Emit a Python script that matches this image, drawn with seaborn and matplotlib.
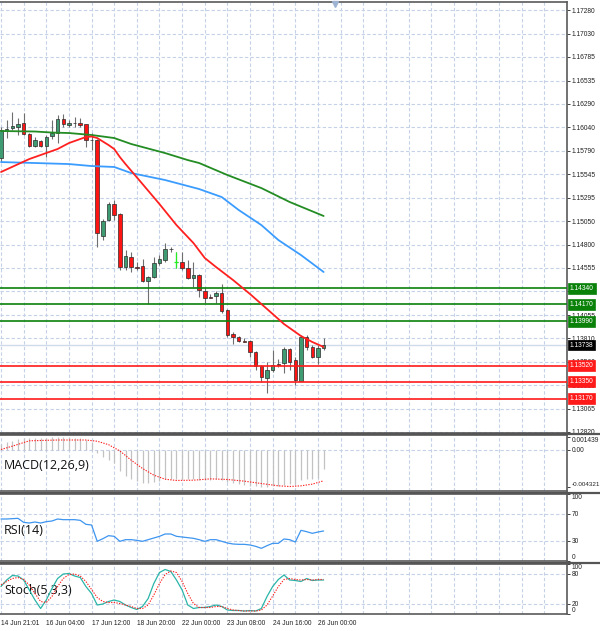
import numpy as np
import seaborn as sns
import matplotlib.pyplot as plt
from matplotlib.lines import Line2D

# ---- 4h candles (EURUSD-like) ----
opens = [1.15716, 1.16001, 1.16033, 1.16043, 1.16086, 1.15969, 1.15842, 1.15895, 1.15842, 1.15948,
         1.15980, 1.16128, 1.16064, 1.16086, 1.16086, 1.16075, 1.15911, 1.15906, 1.14891, 1.15060,
         1.15229, 1.15124, 1.14563, 1.14669, 1.14563, 1.14574, 1.14415, 1.14458, 1.14606, 1.14638,
         1.14754, 1.14616, 1.14616, 1.14553, 1.14447, 1.14479, 1.14310, 1.14246, 1.14257, 1.14289,
         1.14109, 1.13855, 1.13824, 1.13781, 1.13781, 1.13665, 1.13517, 1.13390, 1.13475, 1.13538,
         1.13549, 1.13697, 1.13580, 1.13359, 1.13824, 1.13718, 1.13612, 1.13708]
highs = [1.16043, 1.16117, 1.16202, 1.16138, 1.16191, 1.15980, 1.15938, 1.15906, 1.15959, 1.16117,
         1.16170, 1.16181, 1.16117, 1.16149, 1.16138, 1.16075, 1.15980, 1.15917, 1.15071, 1.15251,
         1.15272, 1.15134, 1.14743, 1.14722, 1.14616, 1.14648, 1.14468, 1.14669, 1.14690, 1.14817,
         1.14775, 1.14722, 1.14722, 1.14638, 1.14616, 1.14490, 1.14341, 1.14278, 1.14310, 1.14384,
         1.14120, 1.13876, 1.13834, 1.13813, 1.13792, 1.13676, 1.13528, 1.13559, 1.13686, 1.13591,
         1.13718, 1.13708, 1.13612, 1.13845, 1.13845, 1.13739, 1.13739, 1.13813]
lows = [1.15673, 1.15927, 1.16012, 1.15959, 1.15959, 1.15832, 1.15832, 1.15832, 1.15726, 1.15917,
        1.15874, 1.16043, 1.16043, 1.16043, 1.16043, 1.15832, 1.15800, 1.14775, 1.14849, 1.15050,
        1.15060, 1.14532, 1.14532, 1.14511, 1.14532, 1.14405, 1.14172, 1.14447, 1.14585, 1.14616,
        1.14722, 1.14553, 1.14532, 1.14437, 1.14352, 1.14246, 1.14183, 1.14236, 1.14183, 1.14077,
        1.13824, 1.13750, 1.13771, 1.13771, 1.13612, 1.13475, 1.13348, 1.13232, 1.13454, 1.13507,
        1.13443, 1.13475, 1.13316, 1.13359, 1.13686, 1.13602, 1.13538, 1.13686]
closes = [1.16012, 1.16022, 1.16054, 1.16075, 1.15969, 1.15842, 1.15906, 1.15842, 1.15938, 1.15980,
          1.16128, 1.16075, 1.16086, 1.16083, 1.16070, 1.15906, 1.15906, 1.14923, 1.15050, 1.15229,
          1.15113, 1.14563, 1.14680, 1.14563, 1.14558, 1.14415, 1.14458, 1.14606, 1.14648, 1.14754,
          1.14749, 1.14616, 1.14553, 1.14447, 1.14479, 1.14320, 1.14236, 1.14241, 1.14289, 1.14098,
          1.13845, 1.13824, 1.13781, 1.13776, 1.13665, 1.13517, 1.13401, 1.13475, 1.13528, 1.13533,
          1.13697, 1.13559, 1.13369, 1.13824, 1.13718, 1.13612, 1.13708, 1.13738]
lime_doji = [31]

# moving averages (read at some bars)
ma_red_i = [0, 5, 10, 12, 15, 16, 17, 19, 20, 21, 22, 25, 28, 31, 34, 36, 38, 41, 44, 47, 50, 53, 55, 57]
ma_red = [1.15568, 1.15705, 1.15811, 1.15874, 1.15938, 1.15943, 1.15927, 1.15853, 1.15811, 1.15726,
          1.15652, 1.15441, 1.15229, 1.15007, 1.14817, 1.14659, 1.14563, 1.14426, 1.14278, 1.14120,
          1.13961, 1.13834, 1.13771, 1.13718]
ma_blue_i = [0, 6, 12, 16, 20, 23, 29, 35, 39, 42, 46, 49, 53, 57]
ma_blue = [1.15673, 1.15663, 1.15652, 1.15631, 1.15621, 1.15557, 1.15483, 1.15388, 1.15303, 1.15166,
           1.15007, 1.14849, 1.14690, 1.14511]
ma_green_i = [0, 6, 9, 12, 16, 20, 23, 29, 33, 35, 40, 46, 51, 57]
ma_green = [1.16001, 1.15996, 1.15985, 1.15980, 1.15959, 1.15927, 1.15864, 1.15768, 1.15694, 1.15663,
            1.15536, 1.15398, 1.15251, 1.15103]

resist = [1.14340, 1.14170, 1.13990]
support = [1.13520, 1.13350, 1.13170]
last_price = 1.13738

price_ticks = [1.12820, 1.13065, 1.13315, 1.13560, 1.13810, 1.14055, 1.14305, 1.14555, 1.14800, 1.15050,
               1.15295, 1.15545, 1.15790, 1.16040, 1.16290, 1.16535, 1.16785, 1.17030, 1.17280]

# MACD(12,26,9)
macd_hist = [0.0006, 0.0008, 0.0010, 0.0012, 0.0013, 0.0013, 0.0013, 0.0013, 0.0013, 0.0014,
             0.00144, 0.0014, 0.0014, 0.0013, 0.0013, 0.0011, 0.0009, -0.0004, -0.0009, -0.0012,
             -0.0015, -0.0025, -0.0030, -0.0033, -0.0036, -0.0038, -0.0038, -0.0037, -0.0036, -0.0034,
             -0.0033, -0.0033, -0.0033, -0.0034, -0.0034, -0.0035, -0.0035, -0.0035, -0.0034, -0.0035,
             -0.0037, -0.0038, -0.0039, -0.0040, -0.0041, -0.0042, -0.00432, -0.0043, -0.0042, -0.0041,
             -0.0040, -0.0039, -0.0039, -0.0035, -0.0034, -0.0033, -0.0032, -0.0022]
macd_sig_i = [0, 2, 5, 10, 15, 17, 19, 21, 23, 25, 27, 29, 31, 34, 37, 40, 43, 46, 49, 51, 53, 55, 57]
macd_sig = [0.0, 0.00038, 0.00099, 0.00108, 0.00108, 0.00094, 0.00055, -0.00016, -0.00121, -0.00216,
            -0.00292, -0.00338, -0.00352, -0.00349, -0.00334, -0.00341, -0.00360, -0.00387, -0.00413,
            -0.00421, -0.00413, -0.00394, -0.00356]

rsi = [62.5, 62.5, 63, 63.5, 57.5, 56.5, 58, 56.5, 58.5, 59.5, 62.5, 61.5, 61.5, 61.5, 60.5, 54.5,
       53.5, 29, 33, 37.5, 36.5, 29, 31.5, 31.5, 30.5, 29, 31.5, 34, 36.5, 40, 40, 36.5, 35.5, 34.5,
       33.5, 31.5, 29, 31.5, 31.5, 29, 26.5, 25, 24.5, 24.5, 23.5, 21.5, 18.5, 22.5, 26, 26, 32.5,
       31.5, 28, 45.5, 43.5, 41, 43, 44.5]

stoch_k = [55, 68, 77, 76, 68, 48, 28, 11, 28, 51, 71, 80, 81, 76, 73, 55, 41, 18, 20, 25, 28, 25,
           18, 13, 9, 15, 31, 61, 83, 89, 85, 68, 48, 18, 11, 13, 13, 15, 18, 15, 8, 7, 7, 6, 7, 6,
           11, 35, 55, 69, 78, 68, 67, 65, 71, 67, 68, 68]
stoch_d = [58, 65, 71, 73, 69, 58, 41, 25, 23, 35, 55, 71, 79, 80, 76, 65, 49, 33, 25, 23, 23, 21,
           18, 15, 11, 11, 18, 38, 61, 79, 86, 83, 65, 41, 21, 13, 13, 13, 15, 15, 11, 8, 7, 6, 6, 6,
           8, 18, 36, 55, 69, 71, 69, 68, 69, 68, 69, 69]

date_pos = [0, 8, 16, 24, 32, 40, 48, 56]
date_labels = ['14 Jun 21:01', '16 Jun 04:00', '17 Jun 12:00', '18 Jun 20:00',
               '22 Jun 00:00', '23 Jun 08:00', '24 Jun 16:00', '26 Jun 00:00']

sns.set_style('white')
plt.rcParams['font.family'] = ['Liberation Sans', 'DejaVu Sans']

grid_col = '#c4d1e6'
grid_ls = (0, (3, 2))
tick_fs = 4.8
W, H = 600, 631

fig = plt.figure(figsize=(6, 6.31), dpi=100)


def panel(top_px, bot_px):
    return fig.add_axes([0, (H - bot_px) / H, 567 / W, (bot_px - top_px) / H])


ax = panel(2, 433)
ax_macd = panel(435, 491)
ax_rsi = panel(494, 561)
ax_sto = panel(564, 614)
axes = [ax, ax_macd, ax_rsi, ax_sto]

for a in axes:
    a.set_xlim(-0.177, 100.0)
    a.set_axisbelow(True)
    a.xaxis.remove_overlapping_locs = False
    a.set_xticks(np.arange(0, 101, 4), minor=True)
    a.grid(which='minor', axis='x', color=grid_col, lw=0.8, ls=grid_ls)
    a.tick_params(axis='x', which='minor', length=0)
    a.yaxis.tick_right()
    a.tick_params(axis='y', length=2.2, width=0.6, pad=1.0, labelsize=tick_fs, colors='#222222')
    a.spines['left'].set_visible(False)
    for s in ['top', 'bottom', 'right']:
        a.spines[s].set_color('#5a5a5a')
        a.spines[s].set_linewidth(1.2)
    if a is not ax_sto:
        a.set_xticks([])

# ---- main price panel ----
ax.set_ylim(1.12809, 1.17365)
ax.set_yticks(price_ticks, ['%.5f' % v for v in price_ticks])
ax.grid(which='major', axis='y', color=grid_col, lw=0.8, ls=grid_ls)

o, h, l, c = map(np.array, (opens, highs, lows, closes))
idx = np.arange(len(o))
body_col = np.where(c > o, '#3f9c72', np.where(c < o, '#ff1414', '#707070'))
ax.vlines(idx, l, h, color='#6e6e6e', lw=0.8, zorder=3)
body_h = np.where(np.abs(c - o) < 0.00002, 0.00002, c - o)
ax.bar(idx, body_h, bottom=o, width=0.62, color=body_col, edgecolor='#2b2b2b', linewidth=0.5, zorder=4)
for i in lime_doji:
    ax.vlines(i, l[i], h[i], color='#22ee22', lw=0.9, zorder=5)
    ax.hlines(c[i], i - 0.35, i + 0.35, color='#22ee22', lw=0.9, zorder=5)

sns.lineplot(x=ma_green_i, y=ma_green, ax=ax, color='#238c23', lw=1.3, zorder=6)
sns.lineplot(x=ma_blue_i, y=ma_blue, ax=ax, color='#3b9cff', lw=1.3, zorder=6)
sns.lineplot(x=ma_red_i, y=ma_red, ax=ax, color='#ff2020', lw=1.3, zorder=6)

ax.axhline(last_price, color='#d0dbea', lw=1.0, zorder=2)
for v in resist:
    ax.axhline(v, color='#0a820a', lw=1.2, zorder=5)
for v in support:
    ax.axhline(v, color='#ff1a1a', lw=1.2, zorder=5)


def price_tag(v, fc):
    ax.annotate('%.5f' % v, xy=(1.0, v), xycoords=('axes fraction', 'data'), xytext=(2.0, 0),
                textcoords='offset points', ha='left', va='center', fontsize=tick_fs, color='white',
                annotation_clip=False, zorder=10,
                bbox=dict(boxstyle='square,pad=0.28', fc=fc, ec=fc, lw=0.5))


for v in resist:
    price_tag(v, '#0a820a')
for v in support:
    price_tag(v, '#ff1a1a')
price_tag(last_price, '#000000')

# shift marker at top
ax.plot([59], [1.1734], marker='v', color='#9fb4d2', ms=4, clip_on=False, zorder=10)

# ---- MACD ----
ax_macd.set_ylim(-0.00472, 0.00165)
ax_macd.set_yticks([0.001439, 0.0, -0.004321], ['0.001439', '0.00', '-0.004321'])
ax_macd.axhline(0, color=grid_col, lw=0.8, ls=grid_ls, zorder=1)
ax_macd.vlines(np.arange(len(macd_hist)), 0, macd_hist, color='#c2c2c2', lw=0.9, zorder=3)
sns.lineplot(x=macd_sig_i, y=macd_sig, ax=ax_macd, color='#ff2020', lw=0.8,
             linestyle=(0, (1.2, 1.2)), zorder=4)

# ---- RSI ----
ax_rsi.set_ylim(-0.5, 100)
ax_rsi.set_yticks([100, 70, 30, 0], ['100', '70', '30', '0'])
for v in [70, 30]:
    ax_rsi.axhline(v, color=grid_col, lw=0.8, ls=grid_ls, zorder=1)
sns.lineplot(x=np.arange(len(rsi)), y=rsi, ax=ax_rsi, color='#3d95f0', lw=0.9, zorder=4)

# ---- Stochastic ----
ax_sto.set_ylim(0, 100)
ax_sto.set_yticks([100, 80, 20, 0], ['100', '80', '20', '0'])
for v in [80, 20]:
    ax_sto.axhline(v, color=grid_col, lw=0.8, ls=grid_ls, zorder=1)
sns.lineplot(x=np.arange(len(stoch_k)), y=stoch_k, ax=ax_sto, color='#2ab5a8', lw=0.9, zorder=4)
sns.lineplot(x=np.arange(len(stoch_d)), y=stoch_d, ax=ax_sto, color='#ff2020', lw=0.8,
             linestyle=(0, (1.2, 1.2)), zorder=4)
ax_sto.set_xticks(date_pos, date_labels)
ax_sto.tick_params(axis='x', which='major', length=3, width=0.6, pad=1.5, labelsize=tick_fs,
                   colors='#222222', direction='out')
for t in ax_sto.get_xticklabels():
    t.set_ha('left')

for a in axes:
    a.set_xlabel('')
    a.set_ylabel('')

# extremes of indicator scales sit inside the window
for a in [ax_macd, ax_rsi, ax_sto]:
    ticks = a.yaxis.get_major_ticks()
    ticks[0].label2.set_va('top')
    ticks[-1].label2.set_va('bottom')
ax_macd.yaxis.get_major_ticks()[-1].label2.set_fontsize(4.5)

ax_macd.text(0.007, 0.46, 'MACD(12,26,9)', transform=ax_macd.transAxes, fontsize=9, va='center',
             family=['Open Sans', 'DejaVu Sans'], color='#111111')
ax_rsi.text(0.007, 0.45, 'RSI(14)', transform=ax_rsi.transAxes, fontsize=9, va='center',
            family=['Open Sans', 'DejaVu Sans'], color='#111111')
ax_sto.text(0.007, 0.48, 'Stoch(5,3,3)', transform=ax_sto.transAxes, fontsize=9, va='center',
            family=['Open Sans', 'DejaVu Sans'], color='#111111')

# full-width window separators
for ypx in [434, 492.5, 562.5]:
    fig.add_artist(Line2D([0, 1], [(H - ypx) / H] * 2, transform=fig.transFigure,
                          color='#555555', lw=1.6))

fig.savefig('out.png', dpi=100, facecolor='white')
